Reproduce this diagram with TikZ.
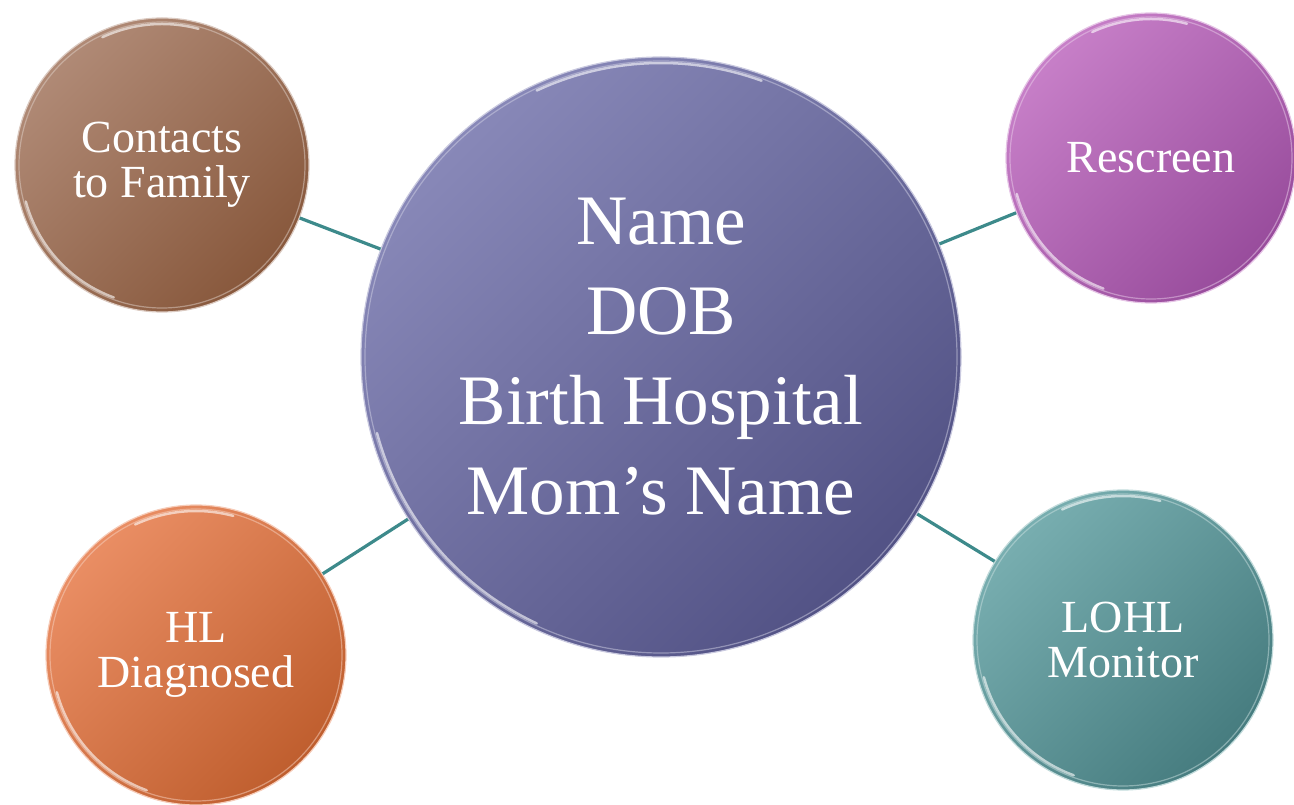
\documentclass[tikz,border=0pt]{standalone}
\usepackage{fontspec}
\setmainfont{Liberation Serif}
\definecolor{mainL}{HTML}{8888B8}
\definecolor{mainD}{HTML}{525285}
\definecolor{brL}{HTML}{B08A76}
\definecolor{brD}{HTML}{88583C}
\definecolor{puL}{HTML}{C77FC8}
\definecolor{puD}{HTML}{984C9C}
\definecolor{teL}{HTML}{78AEB0}
\definecolor{teD}{HTML}{467C7F}
\definecolor{orL}{HTML}{EA8E64}
\definecolor{orD}{HTML}{BF5E2E}
\definecolor{link}{HTML}{3D8A8B}
\tikzset{
  bub/.style 2 args={circle, inner sep=0pt, align=center, text=white,
    shading=axis, top color=#1, bottom color=#2, shading angle=45,
    draw=#1!45!white, line width=1.2pt},
  conn/.style={draw=link, line width=3.2pt},
  rim/.style={draw=white, line width=2.5pt, opacity=0.6, line cap=round},
  edge/.style={draw=#1, line width=1.2pt, opacity=0.5},
  bigtxt/.style={font=\fontsize{71}{90}\selectfont},
  smalltxt/.style={font=\fontsize{46}{45}\selectfont},
}
\begin{document}
\begin{tikzpicture}[x=1pt,y=1pt]
\useasboundingbox (0,0) rectangle (1294,804);
% bubbles
\node[bub={mainL}{mainD}, minimum size=600pt, bigtxt] (main) at (661,447)
  {Name\\DOB\\Birth Hospital\\Mom’s Name};
\node[bub={brL}{brD}, minimum size=294pt, smalltxt] (contacts) at (162,639)
  {Contacts\\to Family};
\node[bub={puL}{puD}, minimum size=290pt, smalltxt] (rescreen) at (1151,646)
  {Rescreen};
\node[bub={teL}{teD}, minimum size=300pt, smalltxt] (lohl) at (1123,164)
  {LOHL\\Monitor};
\node[bub={orL}{orD}, minimum size=300pt, smalltxt] (hl) at (196,149)
  {HL\\Diagnosed};
% rims
\draw[edge=mainL!40!white] (main) circle[radius=296pt];
\draw[rim] (main.center) ++(195:294pt) arc[start angle=195, end angle=245, radius=294pt];
\draw[rim] (main.center) ++(70:294pt) arc[start angle=70, end angle=115, radius=294pt];
\draw[edge=brL!40!white] (contacts) circle[radius=143pt];
\draw[rim] (contacts.center) ++(195:141pt) arc[start angle=195, end angle=250, radius=141pt];
\draw[rim] (contacts.center) ++(75:141pt) arc[start angle=75, end angle=115, radius=141pt];
\draw[edge=puL!40!white] (rescreen) circle[radius=141pt];
\draw[rim] (rescreen.center) ++(195:139pt) arc[start angle=195, end angle=250, radius=139pt];
\draw[rim] (rescreen.center) ++(75:139pt) arc[start angle=75, end angle=115, radius=139pt];
\draw[edge=teL!40!white] (lohl) circle[radius=146pt];
\draw[rim] (lohl.center) ++(195:144pt) arc[start angle=195, end angle=250, radius=144pt];
\draw[rim] (lohl.center) ++(75:144pt) arc[start angle=75, end angle=115, radius=144pt];
\draw[edge=orL!40!white] (hl) circle[radius=146pt];
\draw[rim] (hl.center) ++(195:144pt) arc[start angle=195, end angle=250, radius=144pt];
\draw[rim] (hl.center) ++(75:144pt) arc[start angle=75, end angle=115, radius=144pt];
% connectors
\draw[conn] (contacts) -- (main);
\draw[conn] (rescreen) -- (main);
\draw[conn] (hl) -- (main);
\draw[conn] (lohl) -- (main);
\end{tikzpicture}
\end{document}
